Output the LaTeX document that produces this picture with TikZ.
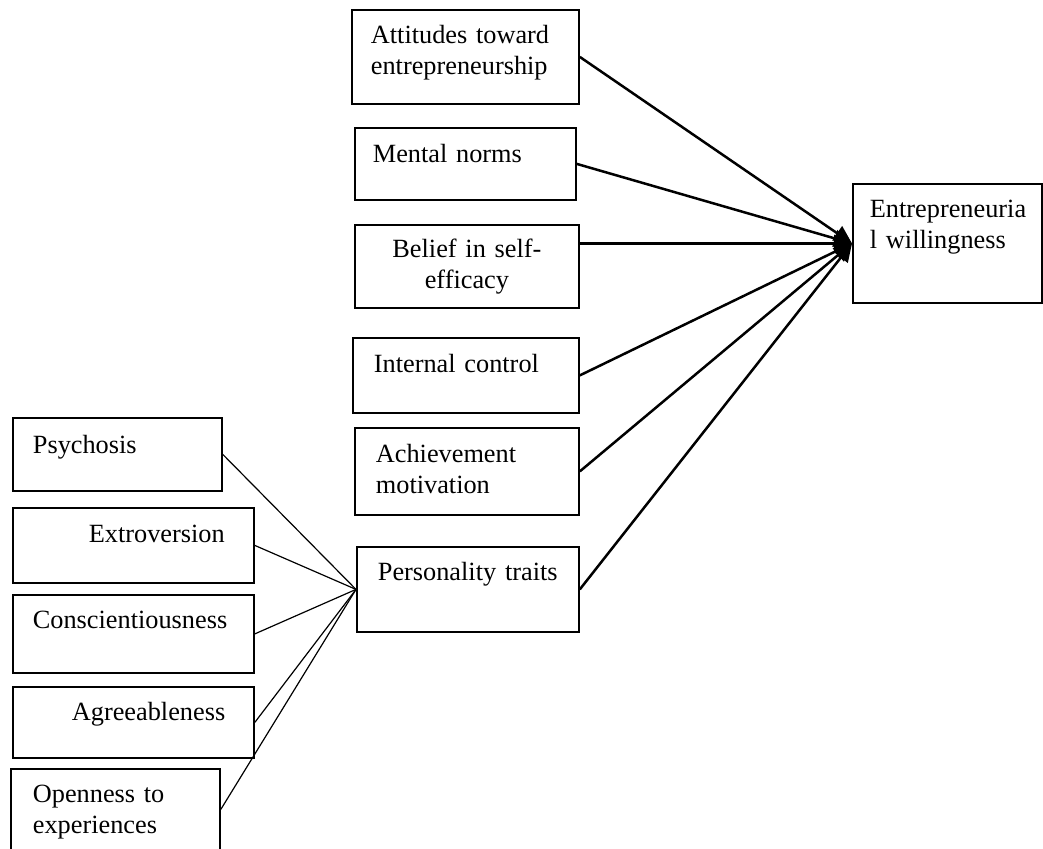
\documentclass[tikz,border=0pt]{standalone}
\usepackage{fontspec}
\setmainfont{Liberation Serif}
\usepackage{tikz}
\usetikzlibrary{arrows.meta}

\begin{document}
\begin{tikzpicture}[x=1pt, y=-1pt,
  box/.style={draw, line width=1.8pt, anchor=north west, inner ysep=0pt,
              align=left, font=\fontsize{26.3}{30.5}\selectfont},
  link/.style={line width=2.5pt, -{Triangle[length=18pt, width=17pt]}},
  feed/.style={line width=1.2pt}]
  \useasboundingbox (0,0) rectangle (1043,848);
  % antecedents of the intention
  \node[box, inner xsep=19pt, text width=189pt, text height=34pt, text depth=60pt] (att) at (351,9) {Attitudes toward\\entrepreneurship};
  \node[box, inner xsep=18pt, text width=185pt, text height=35pt, text depth=37pt] (norm) at (354,127) {Mental norms};
  \node[box, align=center, inner xsep=18pt, text width=188pt, text height=33pt, text depth=50pt] (eff) at (354,224) {Belief in self-\\efficacy};
  \node[box, inner xsep=21pt, text width=184pt, text height=35pt, text depth=40pt] (ctrl) at (352,337) {Internal control};
  \node[box, inner xsep=21pt, text width=182pt, text height=35pt, text depth=52pt] (ach) at (354,427) {Achievement\\motivation};
  \node[box, inner xsep=21pt, text width=180pt, text height=34pt, text depth=51pt] (pers) at (356,546) {Personality traits};
  \node[box, inner xsep=17pt, text width=155pt, text height=34pt, text depth=85pt] (will) at (852,183) {Entrepreneuria\\l willingness};
  % big five
  \node[box, inner xsep=20pt, text width=169pt, text height=36pt, text depth=37pt] (psy) at (12,417) {Psychosis};
  \node[box, inner xsep=20pt, text width=201pt, text height=35pt, text depth=40pt] (extr) at (12,507) {\hspace*{56pt}Extroversion};
  \node[box, inner xsep=20pt, text width=201pt, text height=34pt, text depth=44pt] (consc) at (12,594) {Conscientiousness};
  \node[box, inner xsep=20pt, text width=201pt, text height=34pt, text depth=37pt] (agree) at (12,686) {\hspace*{39pt}Agreeableness};
  \node[box, inner xsep=22pt, text width=165pt, text height=34pt, text depth=47pt] (open) at (10,768) {Openness to\\experiences};
  % arrows into willingness
  \draw[link] (att.east) -- (will.west);
  \draw[link] (norm.east) -- (will.west);
  \draw[link] (eff.east |- will.west) -- (will.west);
  \draw[link] (ctrl.east) -- (will.west);
  \draw[link] (ach.east) -- (will.west);
  \draw[link] (pers.east) -- (will.west);
  % traits into personality
  \draw[feed] (psy.east) -- (pers.west);
  \draw[feed] (extr.east) -- (pers.west);
  \draw[feed] (consc.east) -- (pers.west);
  \draw[feed] (agree.east) -- (pers.west);
  \draw[feed] (open.east) -- (pers.west);
\end{tikzpicture}
\end{document}
